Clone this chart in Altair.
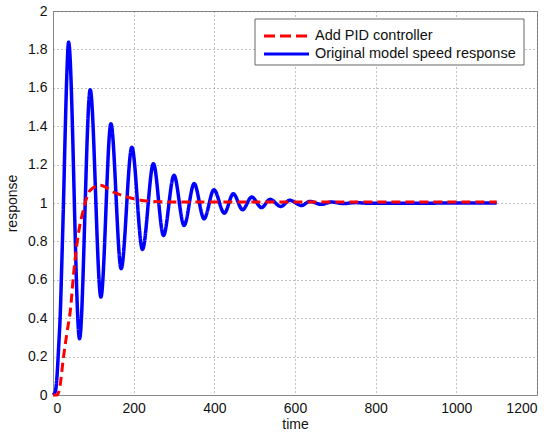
import altair as alt
import pandas as pd

series_names = ["Add PID controller", "Original model speed response"]
series_colors = ["#ff0000", "#0000ff"]

blue_x = [0, 6, 10, 14, 18, 22, 26, 30, 34, 38.6, 65.8, 92.3, 118.8, 143.6, 169, 195.5,
          221.8, 249, 274, 300, 325, 350, 374.5, 399, 424.7, 447, 470, 492.6, 517, 538,
          565, 587, 616, 637, 665, 690, 720, 750, 780, 1100]
blue_y = [0, 0.02, 0.1, 0.25, 0.42, 0.7, 1.0, 1.35, 1.65, 1.838, 0.293, 1.590, 0.510,
          1.413, 0.658, 1.291, 0.758, 1.205, 0.831, 1.144, 0.883, 1.101, 0.918, 1.069,
          0.947, 1.048, 0.965, 1.031, 0.976, 1.019, 0.982, 1.014, 0.987, 1.008, 0.993,
          1.005, 0.997, 1.002, 0.999, 1.0]

red_x = [0, 10, 16, 26, 35, 43, 51, 63, 76, 92, 117, 150, 200, 249, 300, 1100]
red_y = [0, 0, 0.03, 0.197, 0.33, 0.44, 0.63, 0.84, 0.97, 1.066, 1.092, 1.057, 1.022,
         1.008, 1.005, 1.005]

x_ticks = [0, 200, 400, 600, 800, 1000, 1200]
y_ticks = [0, 0.2, 0.4, 0.6, 0.8, 1, 1.2, 1.4, 1.6, 1.8, 2]

blue_df = pd.DataFrame({"time": blue_x, "response": blue_y, "series": series_names[1]})
red_df = pd.DataFrame({"time": red_x, "response": red_y, "series": series_names[0]})

FONT = "Liberation Sans"

x_enc = alt.X("time:Q", scale=alt.Scale(domain=[0, 1200], nice=False),
              axis=alt.Axis(values=x_ticks, title="time", grid=True, format="d"))
y_enc = alt.Y("response:Q", scale=alt.Scale(domain=[0, 2], nice=False),
              axis=alt.Axis(values=y_ticks, title="response", grid=True, format="~g"))
color_enc = alt.Color("series:N", scale=alt.Scale(domain=series_names, range=series_colors),
                      legend=None)
dash_enc = alt.StrokeDash("series:N", scale=alt.Scale(domain=series_names, range=[[9, 5], [1, 0]]),
                          legend=None)

blue = alt.Chart(blue_df).mark_line(interpolate="monotone", strokeWidth=3.5).encode(
    x=x_enc, y=y_enc, color=color_enc, strokeDash=dash_enc)
red = alt.Chart(red_df).mark_line(interpolate="monotone", strokeWidth=3).encode(
    x=x_enc, y=y_enc, color=color_enc, strokeDash=dash_enc)

# manual legend (annotation)
one = pd.DataFrame({"k": [0]})
leg_box = alt.Chart(one).mark_rect(fill="white", stroke="#666", strokeWidth=1).encode(
    x=alt.value(202), x2=alt.value(471), y=alt.value(8), y2=alt.value(54))
leg_red = alt.Chart(one).mark_rule(color=series_colors[0], strokeWidth=3,
                                   strokeDash=[11, 5]).encode(
    x=alt.value(211), x2=alt.value(256), y=alt.value(25))
leg_blue = alt.Chart(one).mark_rule(color=series_colors[1], strokeWidth=3).encode(
    x=alt.value(211), x2=alt.value(256), y=alt.value(43))
leg_t1 = alt.Chart(one).mark_text(align="left", baseline="middle", font=FONT, fontSize=14.5,
                                  color="#111", text=series_names[0]).encode(
    x=alt.value(262), y=alt.value(25))
leg_t2 = alt.Chart(one).mark_text(align="left", baseline="middle", font=FONT, fontSize=14.5,
                                  color="#111", text=series_names[1]).encode(
    x=alt.value(262), y=alt.value(43))

chart = alt.layer(blue, red, leg_box, leg_red, leg_blue, leg_t1, leg_t2).properties(
    width=484, height=384,
    autosize=alt.AutoSizeParams(type="none"),
    padding={"left": 53, "top": 11, "right": 16, "bottom": 41},
    background="white",
).configure_view(stroke="#888", strokeWidth=1).configure_axis(
    labelFont=FONT, titleFont=FONT, labelFontSize=14, titleFontSize=14,
    titleFontWeight="normal", labelColor="#111", titleColor="#111",
    domainColor="#888", ticks=False,
    gridColor="#666", gridDash=[1, 3], gridOpacity=0.8,
    labelPadding=6,
).configure_axisX(titlePadding=2).configure_axisY(titlePadding=8)

chart.save("out.html", embed_options={"renderer": "svg", "actions": False})
